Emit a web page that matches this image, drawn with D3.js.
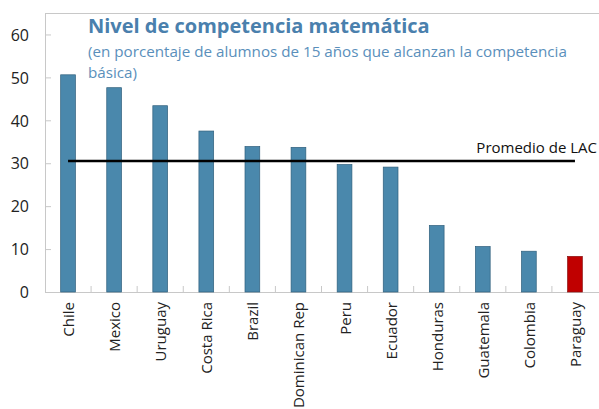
<!DOCTYPE html>
<html>
<head>
<meta charset="utf-8">
<script src="https://cdn.jsdelivr.net/npm/d3@7"></script>
<style>
  body { margin: 0; background: #fff; }
  svg text { font-family: "Open Sans", sans-serif; }
</style>
</head>
<body>
<svg id="chart"></svg>
<script>
"use strict";

// data
const countries = ["Chile", "Mexico", "Uruguay", "Costa Rica", "Brazil", "Dominican Rep",
    "Peru", "Ecuador", "Honduras", "Guatemala", "Colombia", "Paraguay"];
const values = [50.6, 47.6, 43.4, 37.5, 33.9, 33.7, 29.7, 29.1, 15.5, 10.6, 9.5, 8.3];
const yTicks = [0, 10, 20, 30, 40, 50, 60];
const lacAverage = 30.5;
const highlight = "Paraguay";

const width = 599, height = 409;
const margin = {top: 13, right: 1, bottom: 117, left: 45};

const svg = d3.select('#chart')
    .attr('width', width)
    .attr('height', height);

const x = d3.scaleBand()
    .domain(countries)
    .range([margin.left, width - margin.right])
    .paddingInner(0.68)
    .paddingOuter(0.34);

const y = d3.scaleLinear()
    .domain([0, 65])
    .range([height - margin.bottom, margin.top]);

// frame: top line + left axis
svg.append('line')
    .attr('x1', margin.left).attr('x2', width)
    .attr('y1', margin.top + 0.5).attr('y2', margin.top + 0.5)
    .attr('stroke', '#c8c8c8');

// y axis, ticks pointing inward
const yAxis = svg.append('g')
    .attr('transform', `translate(${margin.left},0)`)
    .call(d3.axisLeft(y).tickValues(yTicks).tickSize(-6).tickPadding(16));
yAxis.select('.domain').attr('stroke', '#c8c8c8')
    .attr('d', `M0.5,${y(0)}V${margin.top}`);
yAxis.selectAll('.tick line').attr('stroke', '#c8c8c8');
yAxis.selectAll('.tick text').attr('font-size', 16).attr('fill', '#222')
    .attr('dy', '0.36em');

// x axis: baseline with ticks at category boundaries
const boundaries = countries.slice(1).map(c => x(c) - x.step() * x.paddingInner() / 2);
svg.append('line')
    .attr('x1', margin.left).attr('x2', width)
    .attr('y1', y(0) + 0.5).attr('y2', y(0) + 0.5)
    .attr('stroke', '#c8c8c8');
svg.selectAll('.xtick').data(boundaries)
    .enter()
    .append('line')
    .attr('class', 'xtick')
    .attr('x1', d => d).attr('x2', d => d)
    .attr('y1', y(0)).attr('y2', y(0) - 6)
    .attr('stroke', '#c8c8c8');

// bars
svg.selectAll('rect.bar').data(countries)
    .enter()
    .append('rect')
    .attr('class', 'bar')
    .attr('x', d => x(d))
    .attr('y', (d, i) => y(values[i]))
    .attr('width', x.bandwidth())
    .attr('height', (d, i) => y(0) - y(values[i]))
    .attr('fill', d => d == highlight ? '#c00000' : '#4a88ac')
    .attr('stroke', d => d == highlight ? '#8a1010' : '#2f5f7c')
    .attr('stroke-width', 0.7);

// category labels, rotated
svg.selectAll('text.xlab').data(countries)
    .enter()
    .append('text')
    .attr('class', 'xlab')
    .attr('transform', d => `translate(${x(d) + x.bandwidth() / 2 + 6},${y(0) + 10}) rotate(-90)`)
    .attr('text-anchor', 'end')
    .attr('font-size', 15)
    .attr('fill', '#222')
    .text(d => d);

// LAC average line
const xFirst = x(countries[0]) + x.bandwidth() / 2;
const xLast = x(countries[countries.length - 1]) + x.bandwidth() / 2;
svg.append('line')
    .attr('x1', xFirst).attr('x2', xLast)
    .attr('y1', y(lacAverage)).attr('y2', y(lacAverage))
    .attr('stroke', '#000')
    .attr('stroke-width', 2.5);
svg.append('text')
    .attr('x', width - 2)
    .attr('y', y(lacAverage) - 8)
    .attr('text-anchor', 'end')
    .attr('font-size', 15)
    .attr('fill', '#111')
    .text('Promedio de LAC');

// titles
svg.append('text')
    .attr('x', 88).attr('y', 33)
    .attr('font-size', 20)
    .attr('font-weight', 'bold')
    .attr('fill', '#4a80ad')
    .text('Nivel de competencia matemática');
const sub = svg.append('text')
    .attr('font-size', 15.2)
    .attr('fill', '#5a8fbb');
sub.append('tspan').attr('x', 88).attr('y', 57)
    .text('(en porcentaje de alumnos de 15 años que alcanzan la competencia');
sub.append('tspan').attr('x', 88).attr('y', 78)
    .text('básica)');
</script>
</body>
</html>
